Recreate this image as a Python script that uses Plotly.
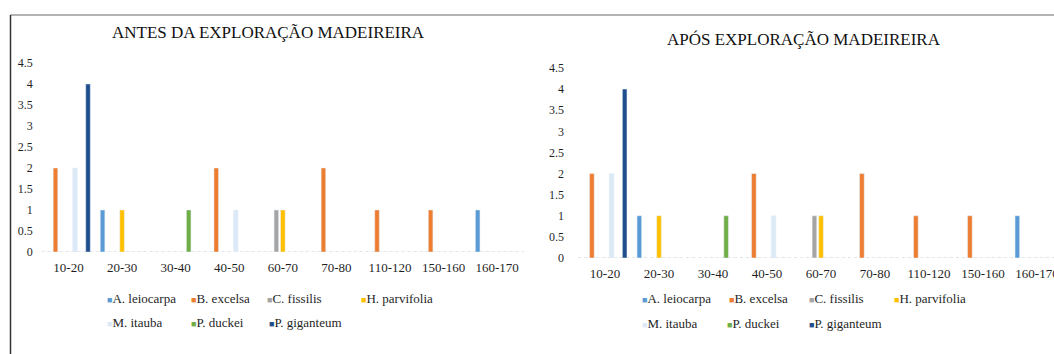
import plotly.graph_objects as go

# Diameter classes (cm) and number of trees per species in each class
classes = ["10-20", "20-30", "30-40", "40-50", "60-70", "70-80", "110-120", "150-160", "160-170"]
species = ["A. leiocarpa", "B. excelsa", "C. fissilis", "H. parvifolia",
           "M. itauba", "P. duckei", "P. giganteum"]

antes_leiocarpa = [0, 1, 0, 0, 0, 0, 0, 0, 1]
antes_excelsa = [2, 0, 0, 2, 0, 2, 1, 1, 0]
antes_fissilis = [0, 0, 0, 0, 1, 0, 0, 0, 0]
antes_parvifolia = [0, 1, 0, 0, 1, 0, 0, 0, 0]
antes_itauba = [2, 0, 0, 1, 0, 0, 0, 0, 0]
antes_duckei = [0, 0, 1, 0, 0, 0, 0, 0, 0]
antes_giganteum = [4, 0, 0, 0, 0, 0, 0, 0, 0]

apos_leiocarpa = [0, 1, 0, 0, 0, 0, 0, 0, 1]
apos_excelsa = [2, 0, 0, 2, 0, 2, 1, 1, 0]
apos_fissilis = [0, 0, 0, 0, 1, 0, 0, 0, 0]
apos_parvifolia = [0, 1, 0, 0, 1, 0, 0, 0, 0]
apos_itauba = [2, 0, 0, 1, 0, 0, 0, 0, 0]
apos_duckei = [0, 0, 1, 0, 0, 0, 0, 0, 0]
apos_giganteum = [4, 0, 0, 0, 0, 0, 0, 0, 0]

yticks = [0, 0.5, 1, 1.5, 2, 2.5, 3, 3.5, 4, 4.5]
ytick_labels = ["0", "0.5", "1", "1.5", "2", "2.5", "3", "3.5", "4", "4.5"]

colors = ["#5B9BD5", "#ED7D31", "#A5A5A5", "#FFC000", "#DCE9F7", "#70AD47", "#1F4E8C"]

antes = [antes_leiocarpa, antes_excelsa, antes_fissilis, antes_parvifolia,
         antes_itauba, antes_duckei, antes_giganteum]
apos = [apos_leiocarpa, apos_excelsa, apos_fissilis, apos_parvifolia,
        apos_itauba, apos_duckei, apos_giganteum]

W, H = 1054, 354
SERIF = "Liberation Serif"
TXT = "#1f1f1f"


def px_x(v):
    return v / W


def px_y(v):
    return (H - v) / H


fig = go.Figure()

for name, col, vals in zip(species, colors, antes):
    fig.add_trace(go.Bar(x=classes, y=vals, name=name, marker_color=col,
                         xaxis="x", yaxis="y", showlegend=False, hoverinfo="x+y+name"))
for name, col, vals in zip(species, colors, apos):
    fig.add_trace(go.Bar(x=classes, y=vals, name=name, marker_color=col,
                         xaxis="x2", yaxis="y2", showlegend=False, hoverinfo="x+y+name"))

axis_common = dict(showgrid=False, zeroline=False, showline=False, ticks="",
                   fixedrange=True)

fig.update_layout(
    width=W, height=H,
    margin=dict(l=0, r=0, t=0, b=0, autoexpand=False),
    paper_bgcolor="white", plot_bgcolor="white",
    barmode="group", bargap=0.15, bargroupgap=0.3,
    showlegend=False,
    font=dict(family=SERIF, color=TXT, size=12),
    xaxis=dict(domain=[px_x(41.7), px_x(524)], range=[-0.5, 8.5],
               type="category", anchor="y",
               tickfont=dict(family=SERIF, size=13), ticklabelstandoff=6, **axis_common),
    yaxis=dict(domain=[px_y(252), px_y(63)], range=[0, 4.5],
               tickvals=yticks, ticktext=ytick_labels, anchor="x",
               tickfont=dict(family=SERIF, size=12), ticklabelstandoff=8, **axis_common),
    xaxis2=dict(domain=[px_x(578), 1.0], range=[-0.5, -0.5 + (W - 578) / 54.0],
                type="category", anchor="y2",
                tickfont=dict(family=SERIF, size=13), ticklabelstandoff=6, **axis_common),
    yaxis2=dict(domain=[px_y(258), px_y(68)], range=[0, 4.5],
                tickvals=yticks, ticktext=ytick_labels, anchor="x2",
                tickfont=dict(family=SERIF, size=12), ticklabelstandoff=13, **axis_common),
)

# Panel titles
fig.add_annotation(text="ANTES DA EXPLORAÇÃO MADEIREIRA", xref="paper", yref="paper",
                   x=px_x(269), y=px_y(33), xanchor="center", yanchor="middle",
                   showarrow=False, font=dict(family=SERIF, size=17, color="#111"))
fig.add_annotation(text="APÓS EXPLORAÇÃO MADEIREIRA", xref="paper", yref="paper",
                   x=px_x(804), y=px_y(40), xanchor="center", yanchor="middle",
                   showarrow=False, font=dict(family=SERIF, size=17, color="#111"))

# Legend keys: square swatch followed by the species name, two rows per panel
legend_slots = {
    "left": [(105, 298), (189, 298), (265, 298), (359, 298),
             (105, 322), (189, 322), (267, 322)],
    "right": [(640, 298), (727, 298), (807, 298), (892, 298),
              (640, 323), (725, 323), (807, 323)],
}
for panel, slots in legend_slots.items():
    for (lx, ly), name, col in zip(slots, species, colors):
        fig.add_annotation(
            text=f'<span style="color:{col};font-size:9px">■</span>{name}',
            xref="paper", yref="paper", x=px_x(lx), y=px_y(ly),
            xanchor="left", yanchor="middle", showarrow=False,
            font=dict(family=SERIF, size=13, color=TXT))

# Dotted category-axis baselines
for xr, yr in (("x domain", "y"), ("x2 domain", "y2")):
    fig.add_shape(type="line", xref=xr, yref=yr, x0=0, x1=1, y0=0, y1=0,
                  line=dict(color="#C9C9C9", width=1, dash="dot"), layer="below")

# Frame lines
fig.add_shape(type="line", xref="paper", yref="paper",
              x0=px_x(10.5), x1=1, y0=px_y(15), y1=px_y(15),
              line=dict(color="#9A9A9A", width=1.5))
fig.add_shape(type="line", xref="paper", yref="paper",
              x0=px_x(10.5), x1=px_x(10.5), y0=px_y(15), y1=0,
              line=dict(color="#333333", width=1.5))

fig.write_html("out.html")
